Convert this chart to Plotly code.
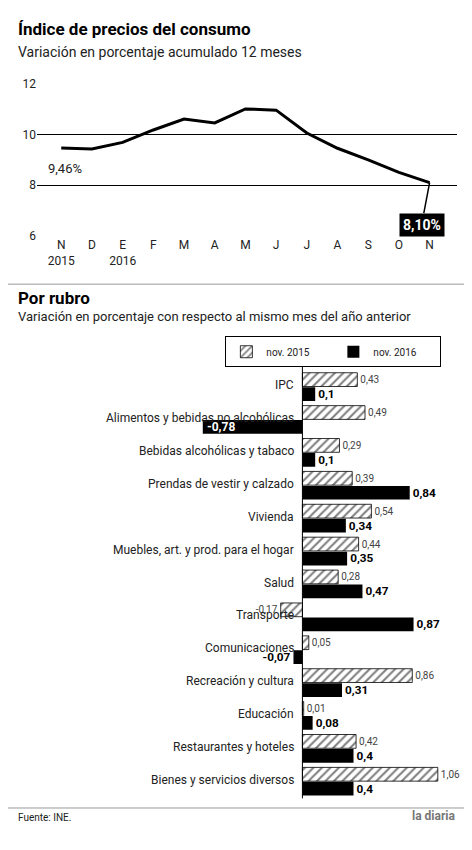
import plotly.graph_objects as go

months = ["N<br>2015", "D", "E<br>2016", "F", "M", "A", "M", "J", "J", "A", "S", "O", "N"]
ipc = [9.46, 9.42, 9.68, 10.17, 10.6, 10.45, 11.0, 10.95, 10.05, 9.45, 8.99, 8.5, 8.10]

rubros = ["IPC", "Alimentos y bebidas no alcohólicas", "Bebidas alcohólicas y tabaco",
          "Prendas de vestir y calzado", "Vivienda", "Muebles, art. y prod. para el hogar",
          "Salud", "Transporte", "Comunicaciones", "Recreación y cultura", "Educación",
          "Restaurantes y hoteles", "Bienes y servicios diversos"]
nov2015 = [0.43, 0.49, 0.29, 0.39, 0.54, 0.44, 0.28, -0.17, 0.05, 0.86, 0.01, 0.42, 1.06]
nov2016 = [0.1, -0.78, 0.1, 0.84, 0.34, 0.35, 0.47, 0.87, -0.07, 0.31, 0.08, 0.4, 0.4]

FONT = "Liberation Sans Narrow, Roboto, Arial Narrow, sans-serif"
W, H = 456, 834
def py(p): return 1 - p / 850
def px(p): return p / 472
fmt = lambda v: str(v).replace(".", ",")

fig = go.Figure()
fig.add_trace(go.Scatter(x=list(range(len(ipc))), y=ipc, mode="lines",
                         line=dict(color="black", width=3), xaxis="x", yaxis="y",
                         showlegend=False, hoverinfo="skip"))

idx = list(range(len(rubros)))
fig.add_trace(go.Bar(y=idx, x=nov2015, orientation="h", name="nov. 2015", xaxis="x2", yaxis="y2",
                     marker=dict(color="white", line=dict(color="black", width=0.8),
                                 pattern=dict(shape="/", fgcolor="black", bgcolor="white", solidity=0.35, size=6)),
                     text=[fmt(v) for v in nov2015], textposition="outside",
                     textfont=dict(size=10, color="#444", family=FONT), cliponaxis=False))
fig.add_trace(go.Bar(y=idx, x=nov2016, orientation="h", name="nov. 2016", xaxis="x2", yaxis="y2",
                     marker=dict(color="black", line=dict(color="black", width=0)),
                     text=["" if v < -0.5 else "<b>" + fmt(v) + "</b>" for v in nov2016],
                     textposition="outside",
                     textfont=dict(size=12, color="black", family=FONT), cliponaxis=False))

ann = []
for i, r in enumerate(rubros):
    ann.append(dict(x=px(298), y=i - 0.05, xref="paper", yref="y2", text=r, showarrow=False,
                    xanchor="right", yanchor="middle", font=dict(size=12, color="#222", family=FONT)))
for i, v in enumerate(nov2016):
    if v < -0.5:
        ann.append(dict(x=v, y=i + 0.21, xref="x2", yref="y2", text="<b>" + fmt(v) + "</b>",
                        showarrow=False, xanchor="left", xshift=2,
                        font=dict(size=12, color="white", family=FONT)))
ann += [
    dict(x=px(8), y=py(15), xref="paper", yref="paper", text="<b>Índice de precios del consumo</b>",
         showarrow=False, xanchor="left", yanchor="middle", font=dict(size=17, family=FONT, color="black")),
    dict(x=px(8), y=py(38), xref="paper", yref="paper", text="Variación en porcentaje acumulado 12 meses",
         showarrow=False, xanchor="left", yanchor="middle", font=dict(size=14, family=FONT, color="#222")),
    dict(x=px(8), y=py(293), xref="paper", yref="paper", text="<b>Por rubro</b>",
         showarrow=False, xanchor="left", yanchor="middle", font=dict(size=17, family=FONT, color="black")),
    dict(x=px(8), y=py(313), xref="paper", yref="paper",
         text="Variación en porcentaje con respecto al mismo mes del año anterior",
         showarrow=False, xanchor="left", yanchor="middle", font=dict(size=13, family=FONT, color="#222")),
    dict(x=0, y=9.46, xref="x", yref="y", text="9,46%", showarrow=False, xanchor="left",
         yshift=-20, xshift=-15, font=dict(size=13, family=FONT, color="#222")),
    dict(x=12, y=8.10, xref="x", yref="y", ax=-8, ay=42, text="<b>8,10%</b>", showarrow=True,
         arrowhead=0, arrowwidth=1.5, arrowcolor="black", bgcolor="black",
         font=dict(size=14, family=FONT, color="white"), borderpad=3),
    dict(x=px(8), y=py(840), xref="paper", yref="paper", text="Fuente: INE.", showarrow=False,
         xanchor="left", font=dict(size=10, family=FONT, color="#222")),
    dict(x=px(466), y=py(840), xref="paper", yref="paper", text="<b>la diaria</b>", showarrow=False,
         xanchor="right", font=dict(size=12, family=FONT, color="#777")),
]

shapes = [
    dict(type="line", xref="paper", yref="paper", x0=0, x1=1, y0=py(279), y1=py(279),
         line=dict(color="#999", width=1)),
    dict(type="line", xref="paper", yref="paper", x0=0, x1=1, y0=py(822), y1=py(822),
         line=dict(color="#999", width=1)),
    dict(type="line", xref="x2", yref="paper", x0=0, x1=0, y0=py(812), y1=py(360),
         line=dict(color="black", width=1)),
]

fig.update_layout(
    width=W, height=H, margin=dict(l=0, r=0, t=0, b=0),
    paper_bgcolor="white", plot_bgcolor="white", separators=",.",
    font=dict(family=FONT, size=12, color="#222"),
    xaxis=dict(domain=[px(30), px(465)], range=[-0.79, 12.9], tickvals=list(range(13)),
               ticktext=months, showgrid=False, zeroline=False, showline=False, ticks="",
               tickfont=dict(size=12, family=FONT), anchor="y", fixedrange=True),
    yaxis=dict(domain=[py(229), py(71)], range=[6, 12], tickvals=[6, 8, 10, 12],
               showgrid=True, gridcolor="black", gridwidth=1, zeroline=True, zerolinecolor="black",
               zerolinewidth=2.5, ticks="", tickfont=dict(size=12, family=FONT), anchor="x"),
    xaxis2=dict(domain=[px(195), px(465)], range=[-0.83, 1.212], visible=False, anchor="y2"),
    yaxis2=dict(domain=[py(815), py(365)], range=[12.6, -0.6], visible=False, anchor="x2"),
    barmode="group", bargap=0.12, bargroupgap=0.05,
    legend=dict(orientation="h", x=px(225), y=py(333), xanchor="left", yanchor="top",
                bordercolor="black", borderwidth=1, font=dict(size=10, family=FONT),
                itemwidth=30, entrywidth=62),
    annotations=ann, shapes=shapes,
)
fig.write_html("out.html")
